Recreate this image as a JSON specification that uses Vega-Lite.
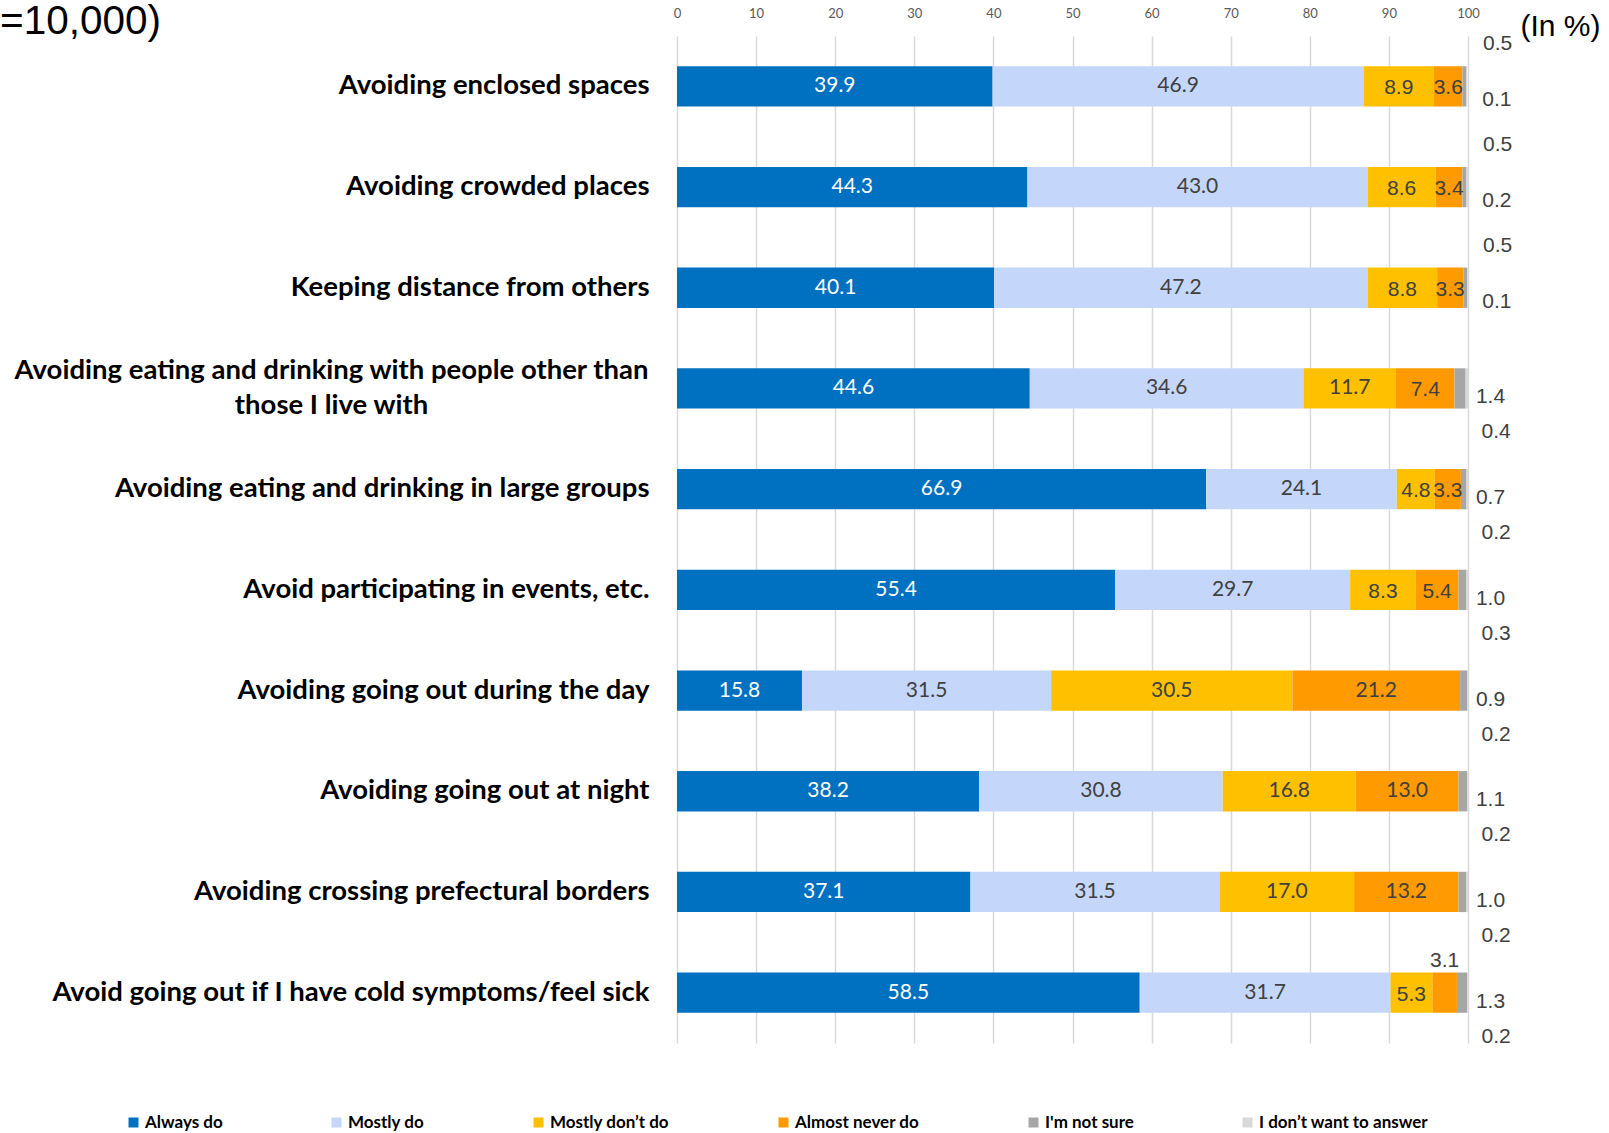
{
  "$schema": "https://vega.github.io/schema/vega-lite/v6.json",
  "autosize": {"type": "none"},
  "width": 791,
  "height": 1007,
  "padding": {"left": 677, "top": 36, "right": 141, "bottom": 90},
  "background": "white",
  "config": {"view": {"stroke": null}},
  "title": {
    "text": "=10,000)",
    "anchor": "start",
    "frame": "group",
    "orient": "top",
    "font": "Liberation Sans",
    "fontSize": 40.5,
    "fontWeight": "normal",
    "color": "#000000",
    "baseline": "alphabetic",
    "offset": 0,
    "dx": -677,
    "dy": 67
  },
  "data": {
    "values": [
      {"item": "Avoiding enclosed spaces", "answer": "Always do", "value": 39.9},
      {"item": "Avoiding enclosed spaces", "answer": "Mostly do", "value": 46.9},
      {"item": "Avoiding enclosed spaces", "answer": "Mostly don’t do", "value": 8.9},
      {"item": "Avoiding enclosed spaces", "answer": "Almost never do", "value": 3.6},
      {"item": "Avoiding enclosed spaces", "answer": "I'm not sure", "value": 0.5},
      {"item": "Avoiding enclosed spaces", "answer": "I don’t want to answer", "value": 0.1},
      {"item": "Avoiding crowded places", "answer": "Always do", "value": 44.3},
      {"item": "Avoiding crowded places", "answer": "Mostly do", "value": 43.0},
      {"item": "Avoiding crowded places", "answer": "Mostly don’t do", "value": 8.6},
      {"item": "Avoiding crowded places", "answer": "Almost never do", "value": 3.4},
      {"item": "Avoiding crowded places", "answer": "I'm not sure", "value": 0.5},
      {"item": "Avoiding crowded places", "answer": "I don’t want to answer", "value": 0.2},
      {"item": "Keeping distance from others", "answer": "Always do", "value": 40.1},
      {"item": "Keeping distance from others", "answer": "Mostly do", "value": 47.2},
      {"item": "Keeping distance from others", "answer": "Mostly don’t do", "value": 8.8},
      {"item": "Keeping distance from others", "answer": "Almost never do", "value": 3.3},
      {"item": "Keeping distance from others", "answer": "I'm not sure", "value": 0.5},
      {"item": "Keeping distance from others", "answer": "I don’t want to answer", "value": 0.1},
      {"item": "Avoiding eating and drinking with people other than those I live with", "answer": "Always do", "value": 44.6},
      {"item": "Avoiding eating and drinking with people other than those I live with", "answer": "Mostly do", "value": 34.6},
      {"item": "Avoiding eating and drinking with people other than those I live with", "answer": "Mostly don’t do", "value": 11.7},
      {"item": "Avoiding eating and drinking with people other than those I live with", "answer": "Almost never do", "value": 7.4},
      {"item": "Avoiding eating and drinking with people other than those I live with", "answer": "I'm not sure", "value": 1.4},
      {"item": "Avoiding eating and drinking with people other than those I live with", "answer": "I don’t want to answer", "value": 0.4},
      {"item": "Avoiding eating and drinking in large groups", "answer": "Always do", "value": 66.9},
      {"item": "Avoiding eating and drinking in large groups", "answer": "Mostly do", "value": 24.1},
      {"item": "Avoiding eating and drinking in large groups", "answer": "Mostly don’t do", "value": 4.8},
      {"item": "Avoiding eating and drinking in large groups", "answer": "Almost never do", "value": 3.3},
      {"item": "Avoiding eating and drinking in large groups", "answer": "I'm not sure", "value": 0.7},
      {"item": "Avoiding eating and drinking in large groups", "answer": "I don’t want to answer", "value": 0.2},
      {"item": "Avoid participating in events, etc.", "answer": "Always do", "value": 55.4},
      {"item": "Avoid participating in events, etc.", "answer": "Mostly do", "value": 29.7},
      {"item": "Avoid participating in events, etc.", "answer": "Mostly don’t do", "value": 8.3},
      {"item": "Avoid participating in events, etc.", "answer": "Almost never do", "value": 5.4},
      {"item": "Avoid participating in events, etc.", "answer": "I'm not sure", "value": 1.0},
      {"item": "Avoid participating in events, etc.", "answer": "I don’t want to answer", "value": 0.3},
      {"item": "Avoiding going out during the day", "answer": "Always do", "value": 15.8},
      {"item": "Avoiding going out during the day", "answer": "Mostly do", "value": 31.5},
      {"item": "Avoiding going out during the day", "answer": "Mostly don’t do", "value": 30.5},
      {"item": "Avoiding going out during the day", "answer": "Almost never do", "value": 21.2},
      {"item": "Avoiding going out during the day", "answer": "I'm not sure", "value": 0.9},
      {"item": "Avoiding going out during the day", "answer": "I don’t want to answer", "value": 0.2},
      {"item": "Avoiding going out at night", "answer": "Always do", "value": 38.2},
      {"item": "Avoiding going out at night", "answer": "Mostly do", "value": 30.8},
      {"item": "Avoiding going out at night", "answer": "Mostly don’t do", "value": 16.8},
      {"item": "Avoiding going out at night", "answer": "Almost never do", "value": 13.0},
      {"item": "Avoiding going out at night", "answer": "I'm not sure", "value": 1.1},
      {"item": "Avoiding going out at night", "answer": "I don’t want to answer", "value": 0.2},
      {"item": "Avoiding crossing prefectural borders", "answer": "Always do", "value": 37.1},
      {"item": "Avoiding crossing prefectural borders", "answer": "Mostly do", "value": 31.5},
      {"item": "Avoiding crossing prefectural borders", "answer": "Mostly don’t do", "value": 17.0},
      {"item": "Avoiding crossing prefectural borders", "answer": "Almost never do", "value": 13.2},
      {"item": "Avoiding crossing prefectural borders", "answer": "I'm not sure", "value": 1.0},
      {"item": "Avoiding crossing prefectural borders", "answer": "I don’t want to answer", "value": 0.2},
      {"item": "Avoid going out if I have cold symptoms/feel sick", "answer": "Always do", "value": 58.5},
      {"item": "Avoid going out if I have cold symptoms/feel sick", "answer": "Mostly do", "value": 31.7},
      {"item": "Avoid going out if I have cold symptoms/feel sick", "answer": "Mostly don’t do", "value": 5.3},
      {"item": "Avoid going out if I have cold symptoms/feel sick", "answer": "Almost never do", "value": 3.1},
      {"item": "Avoid going out if I have cold symptoms/feel sick", "answer": "I'm not sure", "value": 1.3},
      {"item": "Avoid going out if I have cold symptoms/feel sick", "answer": "I don’t want to answer", "value": 0.2}
    ]
  },
  "transform": [
    {"calculate": "indexof(['Always do','Mostly do','Mostly don’t do','Almost never do','I\\'m not sure','I don’t want to answer'], datum.answer)", "as": "ord"},
    {"stack": "value", "groupby": ["item"], "sort": [{"field": "ord", "order": "ascending"}], "as": ["v0", "v1"]},
    {"calculate": "(datum.v0 + datum.v1) / 2", "as": "mid"},
    {"calculate": "indexof(['Avoiding enclosed spaces','Avoiding crowded places','Keeping distance from others'], datum.item) >= 0", "as": "top3"}
  ],
  "encoding": {
    "y": {
      "field": "item",
      "type": "nominal",
      "sort": null,
      "title": null,
      "scale": {"paddingInner": 0.6, "paddingOuter": 0.3},
      "axis": {
        "ticks": false,
        "domain": false,
        "labelFont": "Lato",
        "labelFontSize": 27.5,
        "labelFontWeight": "bold",
        "labelColor": "#000000",
        "labelLimit": 800,
        "labelLineHeight": 35,
        "labelAlign": {"condition": {"test": "datum.value == 'Avoiding eating and drinking with people other than those I live with'", "value": "center"}, "value": "right"},
        "labelPadding": {"condition": {"test": "datum.value == 'Avoiding eating and drinking with people other than those I live with'", "value": 346}, "value": 28},
        "labelOffset": {"condition": {"test": "datum.value == 'Avoiding eating and drinking with people other than those I live with'", "value": -17}, "value": 0},
        "labelExpr": "datum.value == 'Avoiding eating and drinking with people other than those I live with' ? ['Avoiding eating and drinking with people other than', 'those I live with'] : datum.label"
      }
    }
  },
  "layer": [
    {
      "mark": {"type": "bar"},
      "encoding": {
        "x": {
          "field": "v0",
          "type": "quantitative",
          "scale": {"domain": [0, 100], "nice": false},
          "axis": {
            "orient": "top",
            "values": [0, 10, 20, 30, 40, 50, 60, 70, 80, 90, 100],
            "grid": true,
            "gridColor": "#d9d9d9",
            "gridWidth": 1.5,
            "domain": false,
            "ticks": false,
            "labelFlush": false,
            "labelFont": "Lato",
            "labelFontSize": 13,
            "labelColor": "#595959",
            "labelPadding": 16,
            "title": "(In %)",
            "titleFont": "Liberation Sans",
            "titleFontSize": 30,
            "titleFontWeight": "normal",
            "titleColor": "#000000",
            "titleAlign": "left",
            "titleBaseline": "middle",
            "titleX": 843,
            "titleY": -10
          }
        },
        "x2": {"field": "v1"},
        "color": {
          "field": "answer",
          "type": "nominal",
          "sort": ["Always do", "Mostly do", "Mostly don’t do", "Almost never do", "I'm not sure", "I don’t want to answer"],
          "scale": {
            "domain": ["Always do", "Mostly do", "Mostly don’t do", "Almost never do", "I'm not sure", "I don’t want to answer"],
            "range": ["#0070C0", "#C4D7FA", "#FFC000", "#FF9A00", "#A6A6A6", "#D9D9D9"]
          },
          "legend": {
            "title": null,
            "orient": "none",
            "legendX": -552,
            "legendY": 1078,
            "direction": "horizontal",
            "columns": 6,
            "gridAlign": "none",
            "columnPadding": 105,
            "symbolType": "square",
            "symbolSize": 100,
            "symbolStrokeWidth": 0,
            "labelFont": "Lato",
            "labelFontSize": 17,
            "labelFontWeight": "bold",
            "labelColor": "#000000",
            "labelOffset": 3,
            "labelLimit": 400
          }
        }
      }
    },
    {
      "transform": [{"filter": "datum.ord <= 3 && datum.value >= 10"}],
      "mark": {"type": "text", "font": "Lato", "fontSize": 21, "baseline": "middle", "align": "center"},
      "encoding": {
        "x": {"field": "mid", "type": "quantitative"},
        "text": {"field": "value", "type": "quantitative", "format": ".1f"},
        "color": {"condition": {"test": "datum.answer == 'Always do'", "value": "#ffffff"}, "value": "#404040"}
      }
    },
    {
      "transform": [{"filter": "datum.ord <= 3 && datum.value >= 3.2 && datum.value < 10"}],
      "mark": {"type": "text", "font": "Liberation Sans", "fontSize": 21, "baseline": "middle", "align": "center", "dy": 2},
      "encoding": {
        "x": {"field": "mid", "type": "quantitative"},
        "text": {"field": "value", "type": "quantitative", "format": ".1f"},
        "color": {"condition": {"test": "datum.answer == 'Always do'", "value": "#ffffff"}, "value": "#404040"}
      }
    },
    {
      "transform": [{"filter": "datum.ord == 3 && datum.value < 3.2"}],
      "mark": {"type": "text", "font": "Liberation Sans", "fontSize": 21, "baseline": "middle", "align": "center", "dy": -32, "color": "#404040"},
      "encoding": {
        "x": {"field": "mid", "type": "quantitative"},
        "text": {"field": "value", "type": "quantitative", "format": ".1f"}
      }
    },
    {
      "transform": [{"filter": "datum.ord == 4 && datum.top3"}],
      "mark": {"type": "text", "font": "Liberation Sans", "fontSize": 21, "baseline": "middle", "align": "left", "dy": -42, "color": "#404040"},
      "encoding": {
        "x": {"datum": 101.9},
        "text": {"field": "value", "type": "quantitative", "format": ".1f"}
      }
    },
    {
      "transform": [{"filter": "datum.ord == 4 && !datum.top3"}],
      "mark": {"type": "text", "font": "Liberation Sans", "fontSize": 21, "baseline": "middle", "align": "left", "dy": 9, "color": "#404040"},
      "encoding": {
        "x": {"datum": 101.0},
        "text": {"field": "value", "type": "quantitative", "format": ".1f"}
      }
    },
    {
      "transform": [{"filter": "datum.ord == 5 && datum.top3"}],
      "mark": {"type": "text", "font": "Liberation Sans", "fontSize": 21, "baseline": "middle", "align": "left", "dy": 14, "color": "#404040"},
      "encoding": {
        "x": {"datum": 101.8},
        "text": {"field": "value", "type": "quantitative", "format": ".1f"}
      }
    },
    {
      "transform": [{"filter": "datum.ord == 5 && !datum.top3"}],
      "mark": {"type": "text", "font": "Liberation Sans", "fontSize": 21, "baseline": "middle", "align": "left", "dy": 44, "color": "#404040"},
      "encoding": {
        "x": {"datum": 101.7},
        "text": {"field": "value", "type": "quantitative", "format": ".1f"}
      }
    }
  ]
}
